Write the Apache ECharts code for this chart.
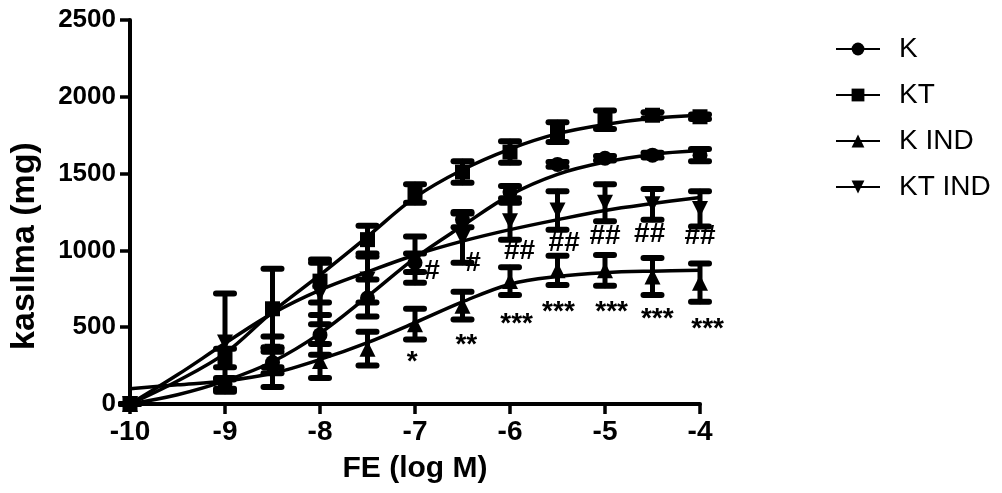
<!DOCTYPE html>
<html>
<head>
<meta charset="utf-8">
<script src="https://cdn.jsdelivr.net/npm/echarts@6/dist/echarts.min.js"></script>
<style>
  html, body { margin: 0; padding: 0; background: #fff; }
  #chart { width: 1002px; height: 493px; }
</style>
</head>
<body>
<div id="chart"></div>
<script>
// log dose of FE
const doses = [-10, -9, -8.5, -8, -7.5, -7, -6.5, -6, -5.5, -5, -4.5, -4]

// mean contraction (mg) and error
const kMean = [0, 130, 270, 450, 690, 920, 1200, 1380, 1560, 1600, 1620, 1620]
const kErr = [0, 30, 70, 130, 120, 60, 50, 40, 15, 15, 15, 40]
const ktMean = [0, 300, 620, 800, 1070, 1370, 1510, 1640, 1770, 1850, 1880, 1870]
const ktErr = [0, 60, 260, 140, 90, 60, 70, 70, 65, 60, 20, 15]
const kIndMean = [0, 130, 240, 280, 360, 520, 640, 800, 870, 870, 830, 790]
const kIndErr = [0, 40, 130, 110, 110, 100, 90, 90, 95, 100, 120, 125]
const ktIndMean = [0, 400, 340, 720, 810, 940, 1080, 1190, 1260, 1310, 1300, 1270]
const ktIndErr = [0, 320, 100, 200, 150, 150, 160, 120, 125, 120, 100, 115]

// fitted curves
const fitX = [-10, -9.5, -9, -8.5, -8, -7.5, -7, -6.5, -6, -5.5, -5, -4.5, -4]
const kFit = [0, 60, 150, 275, 460, 700, 950, 1160, 1360, 1495, 1575, 1625, 1650]
const ktFit = [0, 150, 330, 600, 840, 1090, 1345, 1525, 1660, 1760, 1820, 1860, 1880]
const kIndFit = [100, 125, 150, 200, 290, 400, 530, 665, 780, 830, 855, 865, 870]
const ktIndFit = [0, 190, 395, 590, 742, 860, 970, 1060, 1135, 1200, 1260, 1305, 1345]

// significance marks
const starText = ['*', '**', '***', '***', '***', '***', '***']
const starX = [-7.03, -6.46, -5.93, -5.49, -4.93, -4.45, -3.92]
const starY = [270, 380, 516, 595, 595, 549, 484]
const hashText = ['#', '#', '##', '##', '##', '##', '##']
const hashX = [-6.82, -6.39, -5.90, -5.43, -5.00, -4.53, -4.00]
const hashY = [862, 914, 993, 1045, 1090, 1103, 1090]

const FONT = "'Liberation Sans', Arial, sans-serif"
const downTri = 'path://M0,0 L10,0 L5,9 Z'

const groups = [
  { name: 'K', mean: kMean, err: kErr, fit: kFit, symbol: 'circle', size: 15 },
  { name: 'KT', mean: ktMean, err: ktErr, fit: ktFit, symbol: 'rect', size: 15 },
  { name: 'K IND', mean: kIndMean, err: kIndErr, fit: kIndFit, symbol: 'triangle', size: 16 },
  { name: 'KT IND', mean: ktIndMean, err: ktIndErr, fit: ktIndFit, symbol: downTri, size: 16 }
]

const series = []
groups.forEach(g => {
  series.push({
    name: g.name,
    type: 'line',
    smooth: 0.35,
    symbol: g.symbol,
    symbolSize: g.size,
    showSymbol: false,
    silent: true,
    lineStyle: { color: '#000', width: 3.5 },
    itemStyle: { color: '#000', opacity: 1 },
    z: 2,
    data: fitX.map((x, i) => [x, g.fit[i]])
  })
  series.push({
    name: g.name + ' err',
    type: 'custom',
    z: 3,
    renderItem: (params, api) => {
      const x = api.value(0)
      const lo = api.coord([x, api.value(1) - api.value(2)])
      const hi = api.coord([x, api.value(1) + api.value(2)])
      const half = 9
      const cap = { stroke: '#000', lineWidth: 6, lineCap: 'round' }
      return {
        type: 'group',
        children: [
          { type: 'line', shape: { x1: lo[0], y1: lo[1], x2: hi[0], y2: hi[1] }, style: { stroke: '#000', lineWidth: 5, lineCap: 'round' } },
          { type: 'line', shape: { x1: hi[0] - half, y1: hi[1], x2: hi[0] + half, y2: hi[1] }, style: cap },
          { type: 'line', shape: { x1: lo[0] - half, y1: lo[1], x2: lo[0] + half, y2: lo[1] }, style: cap }
        ]
      }
    },
    data: doses.map((x, i) => [x, g.mean[i], g.err[i]])
  })
  series.push({
    name: g.name + ' pts',
    type: 'scatter',
    symbol: g.symbol,
    symbolSize: g.size,
    itemStyle: { color: '#000', opacity: 1 },
    z: 4,
    data: doses.map((x, i) => [x, g.mean[i]])
  })
})

const markSeries = (texts, xs, ys) => ({
  type: 'scatter',
  symbolSize: 0,
  silent: true,
  clip: false,
  z: 5,
  itemStyle: { opacity: 1 },
  label: {
    show: true,
    position: 'inside',
    formatter: p => p.value[2],
    color: '#000',
    opacity: 1,
    fontFamily: FONT,
    fontWeight: 'bold',
    fontSize: 28
  },
  data: texts.map((t, i) => [xs[i], ys[i], t])
})
series.push(markSeries(starText, starX, starY))
series.push(markSeries(hashText, hashX, hashY))

const chart = echarts.init(document.getElementById('chart'), null, { renderer: 'canvas' })
chart.setOption({
  animation: false,
  backgroundColor: '#fff',
  grid: { left: 123, right: 302, top: 20, bottom: 89, containLabel: false },
  legend: {
    data: groups.map(g => g.name),
    orient: 'vertical',
    left: 830,
    top: 30,
    itemWidth: 44,
    itemHeight: 16,
    itemGap: 18,
    textStyle: { fontFamily: FONT, fontSize: 28, color: '#000', padding: [0, 0, 0, 14] },
    selectedMode: false
  },
  xAxis: {
    type: 'value',
    min: -10,
    max: -4,
    interval: 1,
    name: 'FE (log M)',
    nameLocation: 'middle',
    nameGap: 50,
    nameTextStyle: { fontFamily: FONT, fontWeight: 'bold', fontSize: 30, color: '#000' },
    axisLine: { onZero: false, lineStyle: { color: '#000', width: 4 } },
    axisTick: { length: 10, lineStyle: { color: '#000', width: 3.5 } },
    axisLabel: { fontFamily: FONT, fontWeight: 'bold', fontSize: 28, color: '#000', margin: 14 },
    splitLine: { show: false }
  },
  yAxis: {
    type: 'value',
    min: 0,
    max: 2500,
    interval: 500,
    name: 'kasılma (mg)',
    nameLocation: 'middle',
    nameGap: 88,
    nameTextStyle: { fontFamily: FONT, fontWeight: 'bold', fontSize: 34, color: '#000', padding: [0, 68, 0, 0] },
    axisLine: { show: true, lineStyle: { color: '#000', width: 4 } },
    axisTick: { show: true, length: 10, lineStyle: { color: '#000', width: 3.5 } },
    axisLabel: { fontFamily: FONT, fontWeight: 'bold', fontSize: 26, color: '#000', margin: 14, formatter: v => String(v) },
    splitLine: { show: false }
  },
  series: series
})
</script>
</body>
</html>
